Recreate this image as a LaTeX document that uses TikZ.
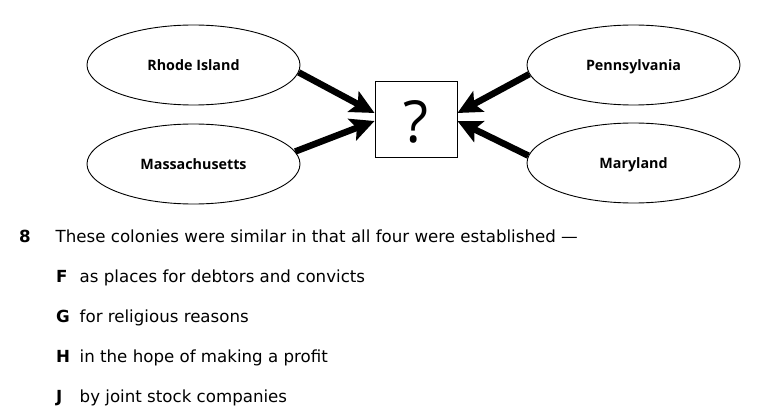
\documentclass[tikz,border=0pt]{standalone}
\usepackage{fontspec}
\setmainfont{DejaVu Sans}
\newfontfamily\labelfont{Open Sans}
\usetikzlibrary{shapes.geometric,arrows.meta,calc}
\tikzset{
  colony/.style={draw, ellipse, line width=0.9pt, minimum width=213pt, minimum height=80pt, inner sep=0pt,
    text height=10.4pt, text depth=0pt,
    font=\labelfont\bfseries\fontsize{14.3}{16}\selectfont},
  qbox/.style={draw, line width=0.9pt, minimum width=82pt, minimum height=76pt, inner sep=0pt},
  fat/.style={line width=6.5pt, -{Stealth[length=24pt,width=23pt,inset=5pt]}},
  qtext/.style={anchor=base west, inner sep=0pt, font=\fontsize{16.65}{19}\selectfont},
  qletter/.style={anchor=base west, inner sep=0pt, font=\bfseries\fontsize{16.65}{19}\selectfont},
}
\begin{document}
\begin{tikzpicture}[x=1pt,y=-1pt]
\useasboundingbox (0,0) rectangle (774,417);
\node[colony] (ri) at (193.5,65) {Rhode Island};
\node[colony] (ma) at (193.5,164) {Massachusetts};
\node[colony] (pa) at (633.5,65) {Pennsylvania};
\node[colony] (md) at (633.5,163) {Maryland};
\node[qbox] (q) at (416,119) {};
\node[font=\labelfont\fontsize{58}{60}\selectfont, inner sep=0pt] (qm) at (416,122) {?};
\draw[fat] (ri.-4) -- ($(q.west)+(0,-6)$);
\draw[fat] (ma.7) -- ($(q.west)+(0,2)$);
\draw[fat] (pa.185) -- ($(q.east)+(0,-6)$);
\draw[fat] (md.176) -- ($(q.east)+(0,2)$);
\node[qletter] (n8) at (19,242) {8};
\node[qtext] (stem) at (55.5,242) {These colonies were similar in that all four were established —};
\node[qletter] (lf) at (56,282) {F};
\node[qtext] (af) at (79.5,282) {as places for debtors and convicts};
\node[qletter] (lg) at (56,322) {G};
\node[qtext] (ag) at (79.5,322) {for religious reasons};
\node[qletter] (lh) at (56,362) {H};
\node[qtext] (ah) at (79.5,362) {in the hope of making a profit};
\node[qletter] (lj) at (56,402) {J};
\node[qtext] (aj) at (79.5,402) {by joint stock companies};
\end{tikzpicture}
\end{document}
